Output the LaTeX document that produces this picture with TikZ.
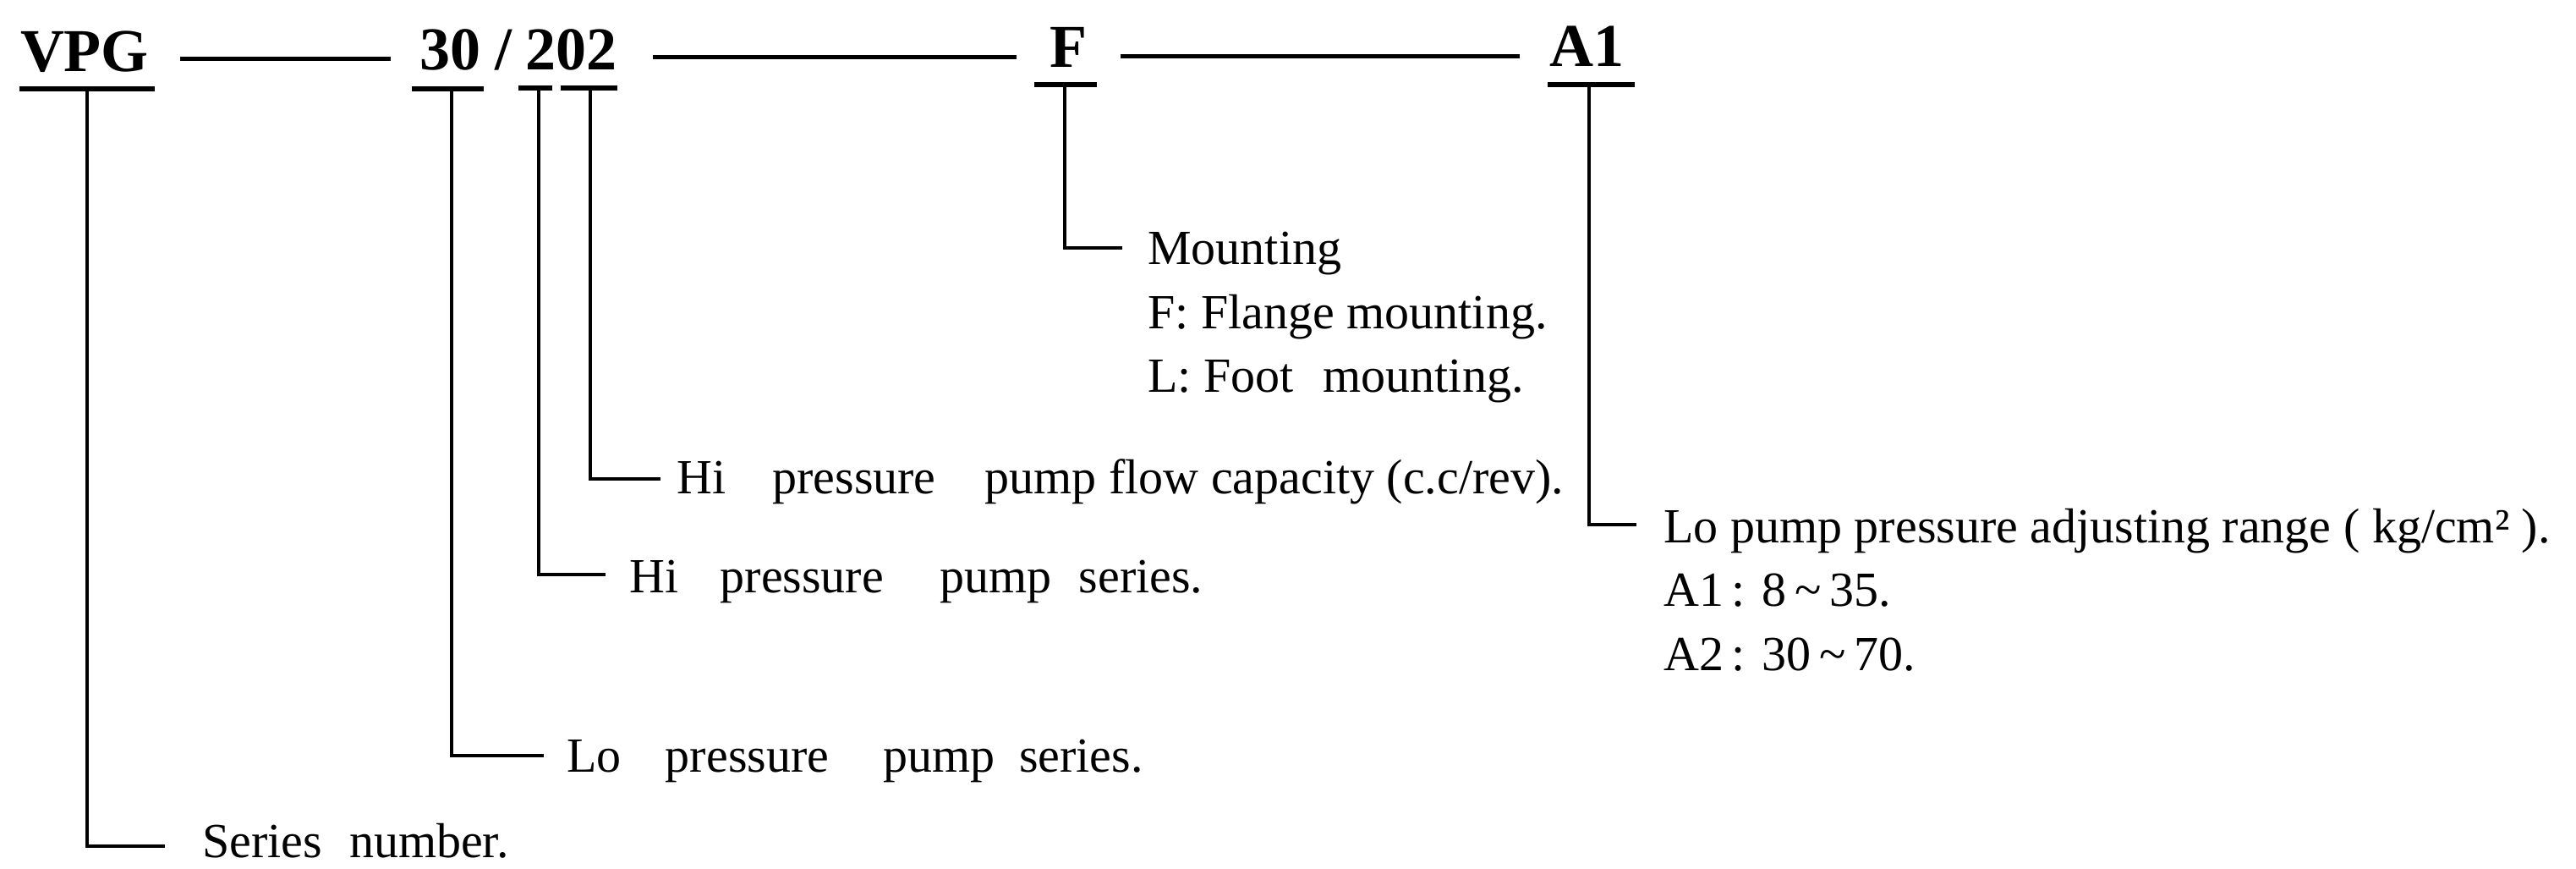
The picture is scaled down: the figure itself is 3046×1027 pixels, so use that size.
\documentclass[tikz,border=0pt]{standalone}
\usepackage{fontspec}
\setmainfont{Liberation Serif}
\usetikzlibrary{calc}
\tikzset{
  lbl/.style={inner sep=0pt, anchor=base west, font=\fontsize{29}{34}\selectfont},
  codelbl/.style={inner sep=0pt, anchor=base, font=\fontsize{36}{40}\selectfont\bfseries},
  conn/.style={line width=2.4pt, line join=miter},
  uline/.style={line width=3pt},
  dashln/.style={line width=2.5pt}
}
\begin{document}
\begin{tikzpicture}[x=0.5pt,y=-0.5pt]
\useasboundingbox (0,0) rectangle (3046,1027);

% code letters
\node[codelbl] (vpg) at (100,85) {VPG};
\node[codelbl] (c30) at (532,83) {30};
\node[codelbl] (slash) at (595,83) {/};
\node[codelbl] (c202) at (675,83) {202};
\node[codelbl] (cf) at (1263,80) {F};
\node[codelbl] (ca1) at (1876,79) {A1};

% dashes between codes
\coordinate (d1a) at (213,70); \coordinate (d1b) at (462,70);
\coordinate (d2a) at (772,68); \coordinate (d2b) at (1202,68);
\coordinate (d3a) at (1325,67); \coordinate (d3b) at (1797,67);
\draw[dashln] (d1a) -- (d1b);
\draw[dashln] (d2a) -- (d2b);
\draw[dashln] (d3a) -- (d3b);

% underlines
\coordinate (uvA) at (23,105);  \coordinate (uvB) at (183,105);
\coordinate (u30A) at (487,105); \coordinate (u30B) at (572,105);
\coordinate (u2A) at (613,104); \coordinate (u2B) at (653,104);
\coordinate (u02A) at (663,104); \coordinate (u02B) at (730,104);
\coordinate (ufA) at (1223,100); \coordinate (ufB) at (1297,100);
\coordinate (uaA) at (1830,100); \coordinate (uaB) at (1933,100);
\draw[uline] (uvA) -- (uvB);
\draw[uline] (u30A) -- (u30B);
\draw[uline] (u2A) -- (u2B);
\draw[uline] (u02A) -- (u02B);
\draw[uline] (ufA) -- (ufB);
\draw[uline] (uaA) -- (uaB);

% connector starts (on underlines) and tick ends
\coordinate (sv) at (103,105);   \coordinate (tv) at (195,1000);
\coordinate (s30) at (534,105);  \coordinate (t30) at (643,893);
\coordinate (s2) at (637,104);   \coordinate (t2) at (716,679);
\coordinate (s02) at (698,104);  \coordinate (t02) at (781,566);
\coordinate (sf) at (1259,100);  \coordinate (tf) at (1327,293);
\coordinate (sa) at (1879,100);  \coordinate (ta) at (1935,620);

\draw[conn] (sv) |- (tv);
\draw[conn] (s30) |- (t30);
\draw[conn] (s2) |- (t2);
\draw[conn] (s02) |- (t02);
\draw[conn] (sf) |- (tf);
\draw[conn] (sa) |- (ta);

% descriptions
\node[lbl] (series) at (239,1013) {Series\hspace{0.55em}number.};
\node[lbl] (lo) at (670,912) {Lo\hspace{0.9em}pressure\hspace{1.1em}pump\hspace{0.5em}series.};
\node[lbl] (hiser) at (744,700) {Hi\hspace{0.85em}pressure\hspace{1.15em}pump\hspace{0.55em}series.};
\node[lbl] (hiflow) at (800,583) {Hi\hspace{0.95em}pressure\hspace{1.0em}pump flow capacity (c.c/rev).};
\node[lbl] (m1) at (1357,313) {Mounting};
\node[lbl] (m2) at (1357,388) {F: Flange mounting.};
\node[lbl] (m3) at (1357,463) {L: Foot\hspace{0.6em}mounting.};
\node[lbl] (p1) at (1967,641) {Lo pump pressure adjusting range ( kg/cm² ).};
\node[lbl] (p2) at (1967,716) {A1\,: 8\,\textasciitilde\,35.};
\node[lbl] (p3) at (1967,792) {A2\,: 30\,\textasciitilde\,70.};
\end{tikzpicture}
\end{document}
